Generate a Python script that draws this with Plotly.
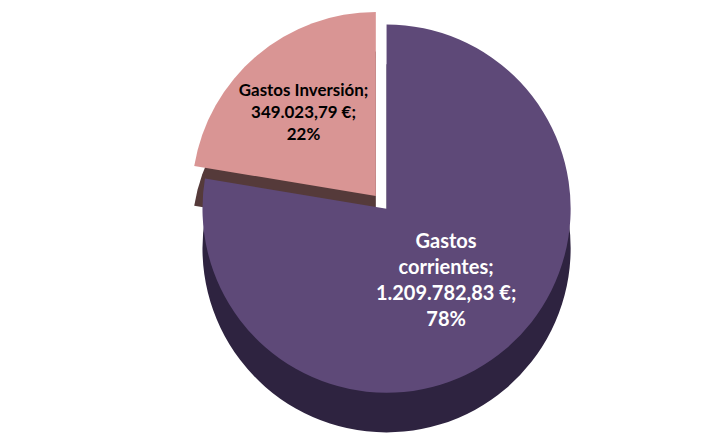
import plotly.graph_objects as go

categories = ["Gastos corrientes", "Gastos Inversión"]
label_text = ["Gastos<br>corrientes", "Gastos Inversión"]
values = [1209782.83, 349023.79]
top_colors = ["#5E4978", "#D99594"]
side_colors = ["#2E2340", "#553A3A"]
text_colors = ["#FFFFFF", "#000000"]
pulls = [0, 0.09]

fig = go.Figure()

# depth layer (simulated 3D side)
fig.add_trace(go.Pie(
    labels=categories, values=values, sort=False, direction="clockwise",
    rotation=0, pull=pulls, textinfo="none", hoverinfo="skip",
    marker=dict(colors=side_colors, line=dict(width=0)),
    domain=dict(x=[0.04, 1.0], y=[0.0, 0.91]), showlegend=False,
))

# top face
fig.add_trace(go.Pie(
    labels=categories, values=values, text=label_text,
    sort=False, direction="clockwise",
    rotation=0, pull=pulls,
    texttemplate="<b>%{text};<br>%{value:,.2f} €;<br>%{percent:.0%}</b>",
    textposition="inside", insidetextorientation="horizontal",
    textfont=dict(family="Lato", size=20, color=text_colors),
    marker=dict(colors=top_colors, line=dict(width=0)),
    domain=dict(x=[0.04, 1.0], y=[0.09, 1.0]), showlegend=False,
))

fig.update_layout(
    width=728, height=441,
    margin=dict(l=0, r=0, t=0, b=0),
    paper_bgcolor="white",
    separators=",.",
    showlegend=False,
)

fig.write_html("out.html")
